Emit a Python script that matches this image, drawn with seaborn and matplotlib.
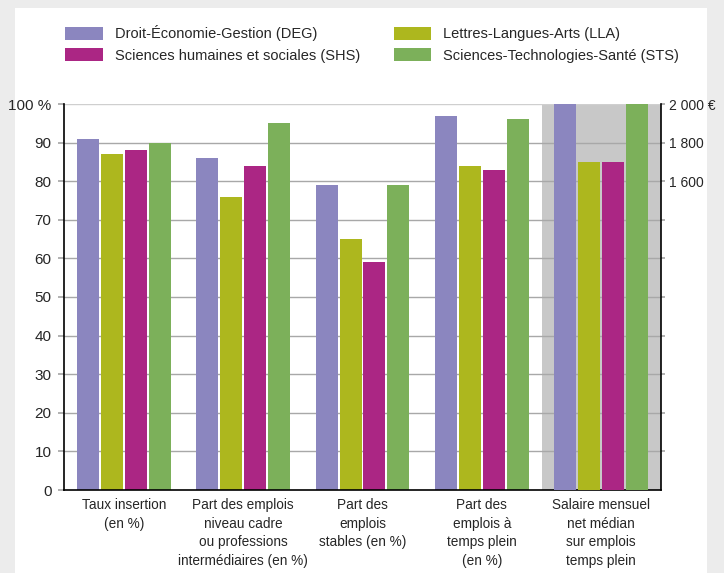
import matplotlib
matplotlib.use("Agg")
import matplotlib.pyplot as plt
import matplotlib.patches as mpatches
import pandas as pd
import seaborn as sns

# Data
categories = [
    "Taux insertion\n(en %)",
    "Part des emplois\nniveau cadre\nou professions\nintermédiaires (en %)",
    "Part des\nemplois\nstables (en %)",
    "Part des\nemplois à\ntemps plein\n(en %)",
    "Salaire mensuel\nnet médian\nsur emplois\ntemps plein",
]
fields = [
    "Droit-Économie-Gestion (DEG)",
    "Lettres-Langues-Arts (LLA)",
    "Sciences humaines et sociales (SHS)",
    "Sciences-Technologies-Santé (STS)",
]
deg_pct = [91, 86, 79, 97]
lla_pct = [87, 76, 65, 84]
shs_pct = [88, 84, 59, 83]
sts_pct = [90, 95, 79, 96]
salary = [2000, 1700, 1700, 2000]  # DEG, LLA, SHS, STS

colors = ["#8b86bf", "#adb71e", "#ab2684", "#7cb05a"]

left_ticks = [0, 10, 20, 30, 40, 50, 60, 70, 80, 90, 100]
left_labels = ["0", "10", "20", "30", "40", "50", "60", "70", "80", "90", "100 %"]
right_ticks = [1600, 1800, 2000]
right_labels = ["1 600", "1 800", "2 000 €"]

rows = []
for f, vals in zip(fields, [deg_pct, lla_pct, shs_pct, sts_pct]):
    for c, v in zip(categories[:4], vals):
        rows.append({"cat": c, "field": f, "value": v})
df_pct = pd.DataFrame(rows)
df_sal = pd.DataFrame({"cat": [categories[4]] * 4, "field": fields, "value": salary})

sns.set_theme(style="white")
plt.rcParams["font.family"] = ["Liberation Sans", "DejaVu Sans"]

fig = plt.figure(figsize=(7.24, 5.73), dpi=100, facecolor="#ececec")
fig.patches.append(mpatches.Rectangle((15 / 724, 0), 692 / 724, 1 - 8 / 573,
                                      transform=fig.transFigure, facecolor="white",
                                      edgecolor="none", zorder=-5))
ax = fig.add_axes([64 / 724, 1 - 490 / 573, 597 / 724, 386 / 573])
ax.set_facecolor("none")

# grey band behind the salary group
ax.axvspan(3.5, 4.5, color="#c8c8c8", zorder=0, lw=0)

sns.barplot(data=df_pct, x="cat", y="value", hue="field", order=categories,
            hue_order=fields, palette=colors, width=0.8, gap=0.08, ax=ax,
            saturation=1, linewidth=0, legend=True, zorder=2)
ax.set_xlim(-0.5, 4.5)
ax.set_ylim(0, 100)
ax.set_yticks(left_ticks)
ax.set_yticklabels(left_labels)
ax.set_xlabel("")
ax.set_ylabel("")
for y in left_ticks[1:]:
    ax.axhline(y, color="#a8a8a8" if y < 100 else "#cfcfcf", lw=1, zorder=1)

ax2 = ax.twinx()
sns.barplot(data=df_sal, x="cat", y="value", hue="field", order=categories,
            hue_order=fields, palette=colors, width=0.8, gap=0.08, ax=ax2,
            saturation=1, linewidth=0, legend=False, zorder=2)
ax2.set_xlim(-0.5, 4.5)
ax2.set_ylim(0, 2000)
ax2.set_yticks(range(200, 2001, 200))
ax2.set_yticklabels(["" if t not in right_ticks else right_labels[right_ticks.index(t)]
                     for t in range(200, 2001, 200)])
ax2.set_ylabel("")

for a in (ax, ax2):
    for s in a.spines.values():
        s.set_visible(False)
ax.spines["left"].set_visible(True)
ax.spines["bottom"].set_visible(True)
ax2.spines["right"].set_visible(True)
for s in (ax.spines["left"], ax.spines["bottom"], ax2.spines["right"]):
    s.set_color("black")
    s.set_linewidth(1.2)

ax.tick_params(axis="y", length=4, color="#a8a8a8", labelsize=11, pad=5, left=True)
ax.tick_params(axis="x", length=0, labelsize=9.8, pad=6)
ax2.tick_params(axis="y", length=3, color="#a8a8a8", labelsize=10, pad=3, right=True)
for lab in ax.get_xticklabels():
    lab.set_linespacing(1.4)

handles, labels = ax.get_legend_handles_labels()
ax.get_legend().remove()
order = [0, 2, 1, 3]
fig.legend([handles[i] for i in order], [labels[i] for i in order],
           loc="upper left", bbox_to_anchor=(52 / 724, 1 - 12 / 573), ncol=2,
           frameon=False, fontsize=10.5, handlelength=2.6, handleheight=1.0,
           handletextpad=0.8, columnspacing=2.3, labelspacing=0.5)

fig.savefig("out.png", dpi=100, facecolor=fig.get_facecolor())
